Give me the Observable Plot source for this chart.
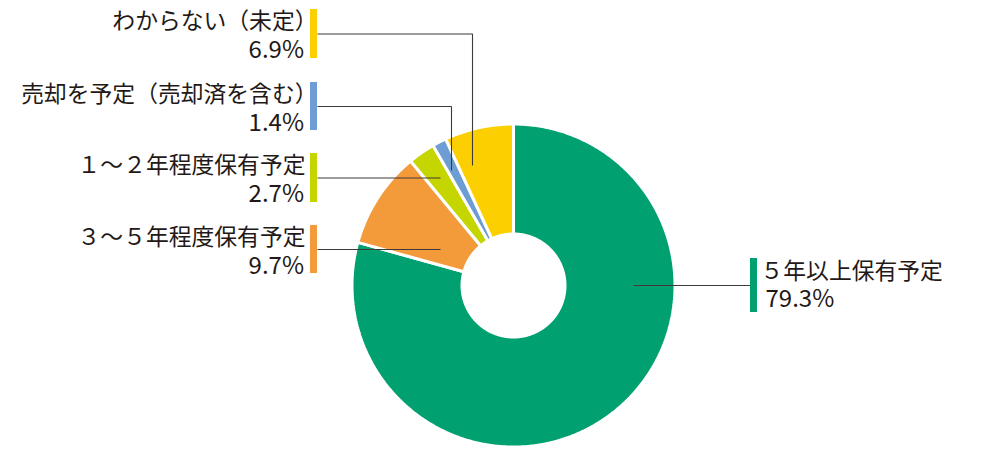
<!DOCTYPE html>
<html><head><meta charset="utf-8">
<script src="https://cdn.jsdelivr.net/npm/d3@7"></script>
<script src="https://cdn.jsdelivr.net/npm/@observablehq/plot@0.6"></script>
<style>body{margin:0;background:#fff;} #chart svg{display:block;}</style>
</head><body><div id="chart"></div>
<script>
// ---- data ----
const categories = ["５年以上保有予定", "３～５年程度保有予定", "１～２年程度保有予定", "売却を予定（売却済を含む）", "わからない（未定）"];
const values = [79.3, 9.7, 2.7, 1.4, 6.9];
const valueLabels = ["79.3%", "9.7%", "2.7%", "1.4%", "6.9%"];
const colors = ["#00a070", "#f39a3b", "#c5d500", "#6e9dd3", "#fcd000"];

// ---- layout (pixel units of the plot frame) ----
const W = 1000, H = 456, cx = 513, cy = 285, rOuter = 161.5, rInner = 51.5;
const labelLayout = [
  {side: "right", barX: 750, barTop: 258, barH: 54, leaderFrom: 633, elbowX: null, endY: null, textX: 760, textX2: 765, l1: 13.1, l2: 41},
  {side: "left", barX: 310, barTop: 225, barH: 48, leaderFrom: 440, elbowX: null, endY: null, textX: 305, textX2: 303.5, l1: 12.5, l2: 40.6},
  {side: "left", barX: 310, barTop: 153, barH: 49, leaderFrom: 440, elbowX: null, endY: null, textX: 305, textX2: 303.5, l1: 12.5, l2: 40.6},
  {side: "left", barX: 310, barTop: 82, barH: 48, leaderFrom: null, elbowX: 451, endY: 170, textX: 317, textX2: 303.5, l1: 12.5, l2: 40.6},
  {side: "left", barX: 310, barTop: 9, barH: 49, leaderFrom: null, elbowX: 472, endY: 165, textX: 317, textX2: 303.5, l1: 12.5, l2: 40.6}
];
const barW = 7;

// ---- slice polygons from the values ----
const pie = d3.pie().sort(null).startAngle(0).endAngle(2 * Math.PI)(values);
const pts = [];
pie.forEach((p, i) => {
  const n = Math.max(4, Math.ceil((p.endAngle - p.startAngle) / 0.01));
  for (let k = 0; k <= n; k++) {
    const a = p.startAngle + (p.endAngle - p.startAngle) * k / n;
    pts.push({cat: categories[i], x: cx + rOuter * Math.sin(a), y: cy - rOuter * Math.cos(a)});
  }
  for (let k = n; k >= 0; k--) {
    const a = p.startAngle + (p.endAngle - p.startAngle) * k / n;
    pts.push({cat: categories[i], x: cx + rInner * Math.sin(a), y: cy - rInner * Math.cos(a)});
  }
});

// ---- bars, leaders, labels ----
const bars = labelLayout.map((L, i) => ({cat: categories[i], x1: L.barX, x2: L.barX + barW, y1: L.barTop, y2: L.barTop + L.barH}));
const leaders = [];
labelLayout.forEach((L, i) => {
  const y = L.barTop + L.barH / 2;
  const barEdge = L.side === "left" ? L.barX + barW : L.barX;
  if (L.elbowX != null) {
    leaders.push({id: i, x: barEdge, y}, {id: i, x: L.elbowX, y}, {id: i, x: L.elbowX, y: L.endY});
  } else {
    leaders.push({id: i, x: L.leaderFrom, y}, {id: i, x: barEdge, y});
  }
});
const nameRows = labelLayout.map((L, i) => ({side: L.side, x: L.textX, y: L.barTop + L.l1, text: categories[i]}));
const valueRows = labelLayout.map((L, i) => ({side: L.side, x: L.textX2, y: L.barTop + L.l2, text: valueLabels[i]}));

const font = "'Noto Sans CJK JP', 'Noto Sans', sans-serif";
const textOpts = (side, size) => ({x: "x", y: "y", text: "text", textAnchor: side === "left" ? "end" : "start", lineAnchor: "middle", fontSize: size, fill: "#231815", fontFamily: font});
const chart = Plot.plot({
  width: W, height: H, margin: 0,
  x: {domain: [0, W], axis: null},
  y: {domain: [H, 0], axis: null},
  color: {domain: categories, range: colors},
  style: {fontFamily: font, background: "#fff"},
  marks: [
    Plot.line(pts, {x: "x", y: "y", z: "cat", fill: "cat", stroke: "#fff", strokeWidth: 3, curve: "linear-closed", strokeLinejoin: "miter"}),
    Plot.line(leaders, {x: "x", y: "y", z: "id", stroke: "#3e3a39", strokeWidth: 1.1, strokeLinecap: "butt", strokeLinejoin: "miter"}),
    Plot.rect(bars, {x1: "x1", x2: "x2", y1: "y1", y2: "y2", fill: "cat"}),
    Plot.text(nameRows.filter(d => d.side === "left"), textOpts("left", 22.8)),
    Plot.text(nameRows.filter(d => d.side === "right"), textOpts("right", 22.8)),
    Plot.text(valueRows.filter(d => d.side === "left"), textOpts("left", 24)),
    Plot.text(valueRows.filter(d => d.side === "right"), textOpts("right", 24))
  ]
});
document.getElementById("chart").appendChild(chart);
</script>
</body></html>
